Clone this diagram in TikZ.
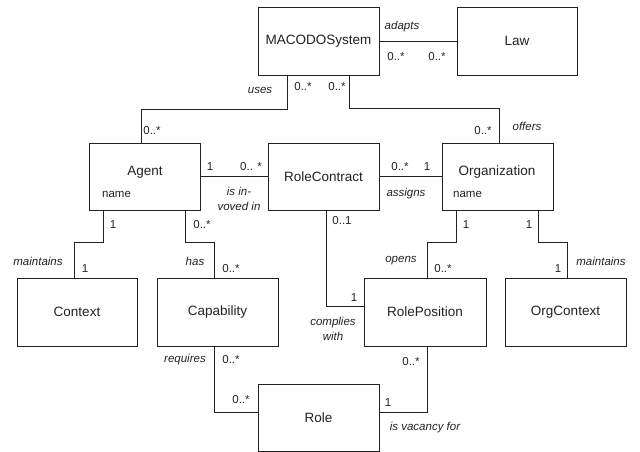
\documentclass[tikz,border=0pt]{standalone}
\usepackage{fontspec}
\setmainfont{Liberation Sans}
\usetikzlibrary{positioning}
\definecolor{ink}{HTML}{222222}
\tikzset{
  cls/.style={draw=ink, line width=0.9pt, fill=white, inner sep=0pt,
    minimum height=68pt, text=ink, font=\fontsize{13.5}{16}\selectfont},
  title/.style={text=ink, inner sep=0pt, font=\fontsize{13.5}{16}\selectfont},
  attr/.style={text=ink, inner sep=0pt, anchor=west, font=\fontsize{11.5}{14}\selectfont},
  mult/.style={text=ink, inner sep=0pt, font=\fontsize{11.5}{14}\selectfont},
  assoc/.style={text=ink, inner sep=0pt, align=center, font=\fontsize{11.5}{15}\selectfont\itshape},
  link/.style={draw=ink, line width=0.9pt},
}
\begin{document}
\begin{tikzpicture}[x=1pt,y=-1pt]
\useasboundingbox (0,0) rectangle (640,452);

% classes
\node[cls, minimum width=121pt] (mac) at (318.5,41) {MACODOSystem};
\node[cls, minimum width=120pt] (law) at (517,41) {Law};
\node[cls, minimum width=111pt, minimum height=67pt] (agent) at (144.5,176.5) {};
\node[cls, minimum width=111pt, minimum height=67pt] (rc) at (323.5,176.5) {RoleContract};
\node[cls, minimum width=111pt, minimum height=67pt] (org) at (497.5,176.5) {};
\node[cls, minimum width=120pt] (ctx) at (77,312) {Context};
\node[cls, minimum width=121pt] (cap) at (217.5,312) {Capability};
\node[cls, minimum width=122pt] (rp) at (425,312) {RolePosition};
\node[cls, minimum width=121pt] (oc) at (565.5,312) {OrgContext};
\node[cls, minimum width=121pt, minimum height=67pt] (role) at (318.5,417.5) {Role};

% class titles with attributes
\node[title] (agentT) at (145,172) {Agent};
\node[attr] (agentA) at (102,194) {name};
\node[title] (orgT) at (497,172) {Organization};
\node[attr] (orgA) at (453,194) {name};

% associations
\draw[link] (mac.east) -- (law.west);
\draw[link] ([xshift=30pt]mac.south west) -- ++(0,34) -| ([xshift=53pt]agent.north west);
\draw[link] ([xshift=92pt]mac.south west) -- ++(0,33) -| ([xshift=58pt]org.north west);
\draw[link] (agent.east) -- (rc.west);
\draw[link] (rc.east) -- (org.west);
\draw[link] ([xshift=15pt]agent.south west) -- ++(0,32) -| ([xshift=58pt]ctx.north west);
\draw[link] ([xshift=97pt]agent.south west) -- ++(0,32) -| ([xshift=58pt]cap.north west);
\draw[link] ([xshift=58pt]cap.south west) |- ([yshift=-29pt]role.north west);
\draw[link] ([xshift=59pt]rc.south west) |- ([yshift=-29pt]rp.north west);
\draw[link] ([xshift=15pt]org.south west) -- ++(0,32) -| ([xshift=64pt]rp.north west);
\draw[link] ([xshift=97pt]org.south west) -- ++(0,32) -| ([xshift=63pt]oc.north west);
\draw[link] ([xshift=64pt]rp.south west) |- ([yshift=-29pt]role.north east);

% association names
\node[assoc] (lAdapts) at (402,27) {adapts};
\node[assoc] (lUses) at (260,90) {uses};
\node[assoc] (lOffers) at (527,126) {offers};
\node[assoc] (lInv) at (239,198.5) {is in-\\voved in};
\node[assoc] (lAssigns) at (406,194) {assigns};
\node[assoc] (lMaint1) at (38,261) {maintains};
\node[assoc] (lHas) at (195,261) {has};
\node[assoc] (lOpens) at (401,261) {opens};
\node[assoc] (lMaint2) at (601,261) {maintains};
\node[assoc] (lComplies) at (333,329) {complies\\with};
\node[assoc] (lRequires) at (185,360) {requires};
\node[assoc] (lVacancy) at (425,428) {is vacancy for};

% multiplicities
\node[mult] (m1) at (396,57) {0..*};
\node[mult] (m2) at (437,57) {0..*};
\node[mult] (m3) at (303,87) {0..*};
\node[mult] (m4) at (337,87) {0..*};
\node[mult] (m5) at (152,131) {0..*};
\node[mult] (m6) at (483,131) {0..*};
\node[mult] (m7) at (210,167) {1};
\node[mult] (m8) at (251,167) {0.. *};
\node[mult] (m9) at (400,167) {0..*};
\node[mult] (m10) at (427,167) {1};
\node[mult] (m11) at (113,225) {1};
\node[mult] (m12) at (202,225) {0..*};
\node[mult] (m13) at (342,221) {0..1};
\node[mult] (m14) at (466,225) {1};
\node[mult] (m15) at (529,225) {1};
\node[mult] (m16) at (85,269) {1};
\node[mult] (m17) at (231,269) {0..*};
\node[mult] (m18) at (443,269) {0..*};
\node[mult] (m19) at (558,269) {1};
\node[mult] (m20) at (354,298) {1};
\node[mult] (m21) at (231,360) {0..*};
\node[mult] (m22) at (411,362) {0..*};
\node[mult] (m23) at (241,400) {0..*};
\node[mult] (m24) at (388,403) {1};
\end{tikzpicture}
\end{document}
